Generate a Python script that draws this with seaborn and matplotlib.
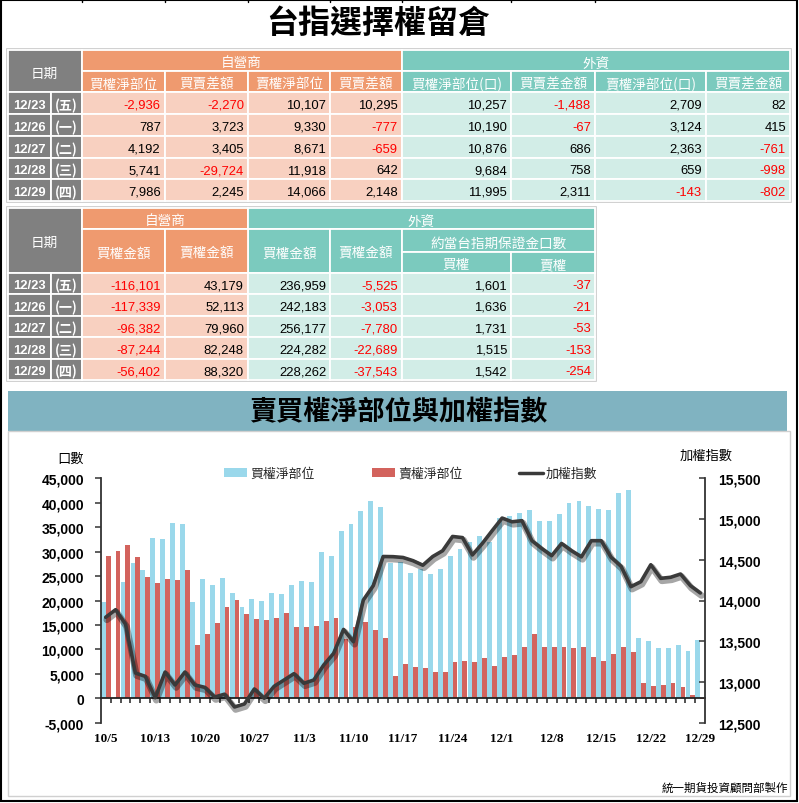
import numpy as np
import pandas as pd
import matplotlib
matplotlib.use("Agg")
import matplotlib.pyplot as plt
import matplotlib.patheffects as pe
from matplotlib.patches import Rectangle, Patch
from matplotlib.lines import Line2D
from matplotlib.ticker import FuncFormatter, FixedLocator
import seaborn as sns

# ---------------- data ----------------
title = "台指選擇權留倉"
chart_title = "賣買權淨部位與加權指數"
source_note = "統一期貨投資顧問部製作"

table_dates = ["12/23", "12/26", "12/27", "12/28", "12/29"]
table_weekdays = ["(五)", "(一)", "(二)", "(三)", "(四)"]

# table 1
t1_dealer_headers = ["買權淨部位", "買賣差額", "賣權淨部位", "買賣差額"]
t1_foreign_headers = ["買權淨部位(口)", "買賣差金額", "賣權淨部位(口)", "買賣差金額"]
dealer_call_net = [-2936, 787, 4192, 5741, 7986]
dealer_call_diff = [-2270, 3723, 3405, -29724, 2245]
dealer_put_net = [10107, 9330, 8671, 11918, 14066]
dealer_put_diff = [10295, -777, -659, 642, 2148]
foreign_call_net = [10257, 10190, 10876, 9684, 11995]
foreign_call_diff = [-1488, -67, 686, 758, 2311]
foreign_put_net = [2709, 3124, 2363, 659, -143]
foreign_put_diff = [82, 415, -761, -998, -802]

# table 2
t2_amount_headers = ["買權金額", "賣權金額"]
t2_margin_header = "約當台指期保證金口數"
t2_margin_sub = ["買權", "賣權"]
dealer_call_amt = [-116101, -117339, -96382, -87244, -56402]
dealer_put_amt = [43179, 52113, 79960, 82248, 88320]
foreign_call_amt = [236959, 242183, 256177, 224282, 228262]
foreign_put_amt = [-5525, -3053, -7780, -22689, -37543]
margin_call = [1601, 1636, 1731, 1515, 1542]
margin_put = [-37, -21, -53, -153, -254]

# chart
trade_dates = ["10/5", "10/6", "10/7", "10/11", "10/12", "10/13", "10/14", "10/17", "10/18",
               "10/19", "10/20", "10/21", "10/24", "10/25", "10/26", "10/27", "10/28", "10/31",
               "11/1", "11/2", "11/3", "11/4", "11/7", "11/8", "11/9", "11/10", "11/11",
               "11/14", "11/15", "11/16", "11/17", "11/18", "11/21", "11/22", "11/23", "11/24",
               "11/25", "11/28", "11/29", "11/30", "12/1", "12/2", "12/5", "12/6", "12/7",
               "12/8", "12/9", "12/12", "12/13", "12/14", "12/15", "12/16", "12/19", "12/20",
               "12/21", "12/22", "12/23", "12/26", "12/27", "12/28", "12/29"]
call_oi = [19750, np.nan, 23780, 27670, 26180, 32780, 32510, 35850, 35710, 19690,
           24330, 23100, 24630, 21600, 18730, 20250, 19900, 21600, 21270, 23270,
           23950, 23760, 29900, 29050, 34200, 35690, 38380, 40300, 39200, 27700,
           27950, 25640, 26450, 25430, 26520, 29180, 30510, 32040, 33270, 32040,
           36800, 37360, 37910, 38550, 36170, 36170, 37770, 39920, 40430, 39400,
           38730, 38550, 42000, 42610, 12340, 11720, 10257, 10190, 10876, 9684, 11995]
put_oi = [29040, 30060, 31410, 28900, 24800, 23640, 24460, 24250, 26240, 10900,
          13150, 15370, 18730, 20100, 17240, 16160, 15950, 16360, 17440, 14640,
          14640, 14780, 15800, 16360, 12130, 14520, 15500, 13940, 12270, 4630,
          7010, 6340, 6130, 5320, 5320, 7360, 7530, 7500, 8180, 6600,
          8340, 8860, 10430, 13150, 10430, 10430, 10430, 10230, 10430, 8380,
          7700, 9060, 10430, 9540, 3070, 2590, 2709, 3124, 2363, 659, -143]
taiex = [13794, 13887, 13711, 13110, 13069, 12807, 13122, 12963, 13122, 12963,
         12934, 12815, 12850, 12693, 12730, 12914, 12800, 12947, 13024, 13102,
         12984, 13024, 13208, 13351, 13645, 13494, 14006, 14182, 14540, 14538,
         14528, 14489, 14433, 14540, 14611, 14786, 14772, 14559, 14700, 14858,
         15012, 14966, 14980, 14735, 14638, 14550, 14700, 14611, 14536, 14734,
         14734, 14530, 14420, 14170, 14231, 14439, 14272, 14285, 14325, 14182, 14092]
series_names = ["買權淨部位", "賣權淨部位", "加權指數"]
left_label = "口數"
right_label = "加權指數"

# ---------------- style ----------------
sns.set_theme(style="white")
CJK = ["Noto Sans CJK TC", "DejaVu Sans"]
NUM = ["Liberation Sans", "DejaVu Sans"]
plt.rcParams["font.family"] = CJK

W, H = 799, 804
fig = plt.figure(figsize=(W / 100, H / 100), dpi=100)

GRAY = "#808080"
ORANGE = "#ef9a6f"
PEACH = "#f8d0c0"
TEAL = "#7bcabe"
MINT = "#d2ede7"
BLUE = "#9ad8eb"
RED = "#d3635d"

ov = fig.add_axes([0, 0, 1, 1], zorder=0)
ov.set_xlim(0, W)
ov.set_ylim(H, 0)
ov.axis("off")


def cell(x0, x1, y0, y1, fc, text="", color="white", ha="center", weight="normal",
         family=None, size=9.8):
    ov.add_patch(Rectangle((x0, y0), x1 - x0, y1 - y0, facecolor=fc,
                           edgecolor="white", lw=1.3))
    if text != "":
        if ha == "right":
            tx = x1 - 4
        else:
            tx = (x0 + x1) / 2
        ov.text(tx, (y0 + y1) / 2 + 0.5, text, ha=ha, va="center_baseline", color=color,
                fontsize=size, fontweight=weight, family=family or CJK)


def num(v):
    return f"{v:,}"


def num_cell(x0, x1, y0, y1, fc, v):
    cell(x0, x1, y0, y1, fc, num(v), color="#ff0000" if v < 0 else "black",
         ha="right", family=NUM, size=9.4)


# outer frame and top marks
ov.add_patch(Rectangle((0.8, 0.8), W - 2.6, H - 2.6, fill=False, edgecolor="black", lw=1.5))
cols = [7.5, 50.5, 81.5, 164.7, 248, 330.3, 401.7, 511, 595, 706, 790]
for cx in cols[2:9]:
    ov.plot([cx, cx], [0, 3], color="black", lw=1)

ov.text(W / 2 - 21, 24, title, ha="center", va="center", fontsize=23, fontweight="bold",
        color="black", family=CJK)

# ---------------- table 1 ----------------
r1 = [51, 72, 93, 115, 137, 158.5, 180, 201.5]
ov.add_patch(Rectangle((cols[0] - 1, r1[0] - 1), cols[10] - cols[0] + 2, r1[-1] - r1[0] + 2,
                       fill=False, edgecolor="#c8c8c8", lw=1.2))
cell(cols[0], cols[2], r1[0], r1[2], GRAY, "日期")
cell(cols[2], cols[6], r1[0], r1[1], ORANGE, "自營商")
cell(cols[6], cols[10], r1[0], r1[1], TEAL, "外資")
for k, h in enumerate(t1_dealer_headers):
    cell(cols[2 + k], cols[3 + k], r1[1], r1[2], ORANGE, h)
for k, h in enumerate(t1_foreign_headers):
    cell(cols[6 + k], cols[7 + k], r1[1], r1[2], TEAL, h)
t1_cols = [dealer_call_net, dealer_call_diff, dealer_put_net, dealer_put_diff,
           foreign_call_net, foreign_call_diff, foreign_put_net, foreign_put_diff]
for i in range(len(table_dates)):
    y0, y1 = r1[2 + i], r1[3 + i]
    cell(cols[0], cols[1], y0, y1, GRAY, table_dates[i], weight="bold", family=NUM, size=9.4)
    cell(cols[1], cols[2], y0, y1, GRAY, table_weekdays[i], weight="bold", size=9.4)
    for k, arr in enumerate(t1_cols):
        num_cell(cols[2 + k], cols[3 + k], y0, y1, PEACH if k < 4 else MINT, arr[i])

# ---------------- table 2 ----------------
r2 = [209, 230, 252.5, 273.5, 295, 316.5, 338, 359.5, 381]
ov.add_patch(Rectangle((cols[0] - 1, r2[0] - 1), cols[8] - cols[0] + 2, r2[-1] - r2[0] + 2,
                       fill=False, edgecolor="#c8c8c8", lw=1.2))
cell(cols[0], cols[2], r2[0], r2[3], GRAY, "日期")
cell(cols[2], cols[4], r2[0], r2[1], ORANGE, "自營商")
cell(cols[4], cols[8], r2[0], r2[1], TEAL, "外資")
for k, h in enumerate(t2_amount_headers):
    cell(cols[2 + k], cols[3 + k], r2[1], r2[3], ORANGE, h)
    cell(cols[4 + k], cols[5 + k], r2[1], r2[3], TEAL, h)
cell(cols[6], cols[8], r2[1], r2[2], TEAL, t2_margin_header)
for k, h in enumerate(t2_margin_sub):
    cell(cols[6 + k], cols[7 + k], r2[2], r2[3], TEAL, h)
t2_cols = [dealer_call_amt, dealer_put_amt, foreign_call_amt, foreign_put_amt,
           margin_call, margin_put]
for i in range(len(table_dates)):
    y0, y1 = r2[3 + i], r2[4 + i]
    cell(cols[0], cols[1], y0, y1, GRAY, table_dates[i], weight="bold", family=NUM, size=9.4)
    cell(cols[1], cols[2], y0, y1, GRAY, table_weekdays[i], weight="bold", size=9.4)
    for k, arr in enumerate(t2_cols):
        num_cell(cols[2 + k], cols[3 + k], y0, y1, PEACH if k < 2 else MINT, arr[i])

# ---------------- chart band / frame ----------------
ov.add_patch(Rectangle((8, 392), 779, 40, facecolor="#80b3c1", edgecolor="none"))
ov.text(398, 412, chart_title, ha="center", va="center", fontsize=19.5, fontweight="bold",
        color="black", family=CJK)
ov.add_patch(Rectangle((8, 432), 782, 365, fill=False, edgecolor="#d0d0d0", lw=1))
ov.text(71, 459, left_label, ha="center", va="center", fontsize=9.5, color="black")
ov.text(706, 456, right_label, ha="center", va="center", fontsize=9.5, color="black")
ov.text(788, 788, source_note, ha="right", va="center", fontsize=8.3, color="black")

# ---------------- chart ----------------
L, R, T, B = 100.7, 705.3, 479.3, 723.7
ax = fig.add_axes([L / W, 1 - B / H, (R - L) / W, (B - T) / H], zorder=2)
ax.patch.set_alpha(0)

bar_df = pd.DataFrame({
    "date": trade_dates * 2,
    "value": list(call_oi) + list(put_oi),
    "series": [series_names[0]] * len(trade_dates) + [series_names[1]] * len(trade_dates),
}).dropna()
sns.barplot(data=bar_df, x="date", y="value", hue="series", order=trade_dates,
            hue_order=series_names[:2], palette=[BLUE, RED], width=0.98, dodge=True,
            saturation=1, errorbar=None, legend=False, ax=ax, linewidth=0)

ax.set_xlim(-0.5, len(trade_dates) - 0.5)
ax.set_ylim(-5000, 45000)
ax.yaxis.set_major_locator(FixedLocator(np.arange(-5000, 45001, 5000)))
ax.yaxis.set_major_formatter(FuncFormatter(lambda v, p: f"{int(v):,}"))
ax.set_xlabel("")
ax.set_ylabel("")
for s in ["top", "right"]:
    ax.spines[s].set_visible(False)
ax.spines["left"].set_color("#333333")
ax.spines["left"].set_linewidth(1.3)
ax.spines["bottom"].set_position(("data", 0))
ax.spines["bottom"].set_color("#222222")
ax.spines["bottom"].set_linewidth(1.3)
label_pos = np.arange(0, len(trade_dates), 5)
ax.set_xticks(label_pos)
ax.set_xticklabels([trade_dates[i] for i in label_pos])
ax.set_xticks(np.arange(-0.5, len(trade_dates), 1)[1:-1], minor=True)
ax.tick_params(axis="x", which="major", length=0, pad=24.5)
ax.tick_params(axis="x", which="minor", length=3.5, width=1.1, color="#222222",
               direction="out", bottom=True)
ax.tick_params(axis="y", which="major", length=4, width=1.1, color="#333333",
               direction="out", left=True, pad=8)
for t in ax.get_xticklabels():
    t.set_family(["Liberation Serif", "DejaVu Serif"])
    t.set_fontweight("bold")
    t.set_fontsize(9.5)
    t.set_color("black")
for t in ax.get_yticklabels():
    t.set_family(NUM)
    t.set_fontweight("bold")
    t.set_fontsize(10)
    t.set_color("black")

ax2 = ax.twinx()
ax2.set_zorder(3)
line_df = pd.DataFrame({"pos": np.arange(len(trade_dates)), "taiex": taiex})
sns.lineplot(data=line_df, x="pos", y="taiex", ax=ax2, color="#3a3a3a", linewidth=2.6,
             path_effects=[pe.SimpleLineShadow(offset=(0.8, -1.8), shadow_color="black",
                                               alpha=0.35, linewidth=4.8),
                           pe.Normal()])
ax2.set_xlim(-0.5, len(trade_dates) - 0.5)
ax2.set_ylim(12500, 15500)
ax2.yaxis.set_major_locator(FixedLocator(np.arange(12500, 15501, 500)))
ax2.yaxis.set_major_formatter(FuncFormatter(lambda v, p: f"{int(v):,}"))
ax2.set_xlabel("")
ax2.set_ylabel("")
for s in ["top", "left", "bottom"]:
    ax2.spines[s].set_visible(False)
ax2.spines["right"].set_color("#333333")
ax2.spines["right"].set_linewidth(1.3)
ax2.tick_params(axis="y", which="major", length=4, width=1.1, color="#333333",
                direction="in", right=True, pad=9)
for t in ax2.get_yticklabels():
    t.set_family(NUM)
    t.set_fontweight("bold")
    t.set_fontsize(10)
    t.set_color("black")

handles = [Patch(facecolor=BLUE, edgecolor="none"),
           Patch(facecolor=RED, edgecolor="none"),
           Line2D([0], [0], color="#3a3a3a", lw=2.5)]
fig.legend(handles, series_names, loc="center left", bbox_to_anchor=(224 / W, 1 - 474.5 / H),
           ncol=3, frameon=False, fontsize=9.3, handlelength=1.8, handletextpad=0.25,
           columnspacing=4.4, borderpad=0, borderaxespad=0, handleheight=0.65)

fig.savefig("out.png", dpi=100)
